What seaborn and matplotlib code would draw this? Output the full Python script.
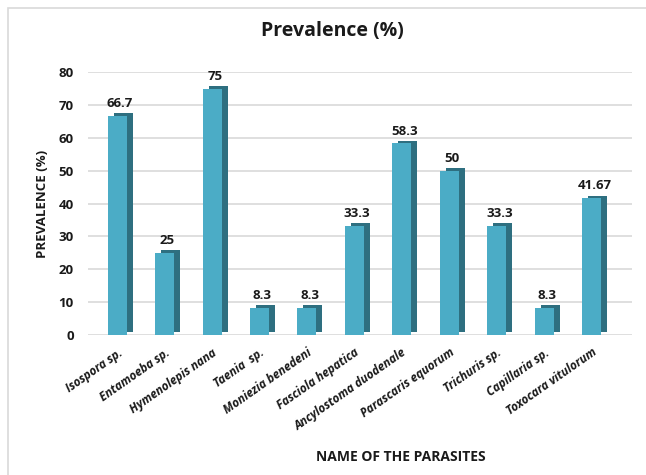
import matplotlib
matplotlib.use("Agg")
import matplotlib.pyplot as plt
import matplotlib.patheffects as pe
from matplotlib.patches import Rectangle
import seaborn as sns
import pandas as pd

parasites = ["Isospora sp.", "Entamoeba sp.", "Hymenolepis nana", "Taenia  sp.",
             "Moniezia benedeni", "Fasciola hepatica", "Ancylostoma duodenale",
             "Parascaris equorum", "Trichuris sp.", "Capillaria sp.", "Toxocara vitulorum"]
prevalence = [66.7, 25, 75, 8.3, 8.3, 33.3, 58.3, 50, 33.3, 8.3, 41.67]
value_labels = ["66.7", "25", "75", "8.3", "8.3", "33.3", "58.3", "50", "33.3", "8.3", "41.67"]
y_ticks = [0, 10, 20, 30, 40, 50, 60, 70, 80]

df = pd.DataFrame({"parasite": parasites, "prevalence": prevalence})

sns.set_theme(style="white")
plt.rcParams["font.family"] = ["Open Sans", "DejaVu Sans"]

fig = plt.figure(figsize=(6.46, 4.75), dpi=100)
ax = fig.add_axes([0.136, 0.295, 0.842, 0.553])

ax.set_axisbelow(True)
for t in y_ticks:
    ax.axhline(t, color="#d9d9d9", lw=1.2, zorder=0)

sns.barplot(data=df, x="parasite", y="prevalence", color="#4BACC6",
            saturation=1, width=0.4, linewidth=0, ax=ax, zorder=3)
for p in ax.patches:
    p.set_edgecolor("none")
    p.set_linewidth(0)
    p.set_path_effects([pe.SimplePatchShadow(offset=(4.3, 1.8), shadow_rgbFace="#2E6F80", alpha=1.0),
                        pe.Normal()])

for i, (v, lab) in enumerate(zip(prevalence, value_labels)):
    ax.annotate(lab, (i, v), xytext=(2, 4), textcoords="offset points",
                ha="center", va="bottom", fontsize=9.5, fontweight="bold", color="#1a1a1a")

ax.set_xlim(-0.62, 10.85)
ax.set_ylim(0, 80)
ax.set_yticks(y_ticks)
ax.set_yticklabels([str(t) for t in y_ticks], fontsize=9.5, fontweight="bold", color="#1a1a1a")
ax.set_xticks(range(len(parasites)))
ax.set_xticklabels(parasites, rotation=35, ha="right", rotation_mode="anchor",
                   fontsize=8.5, fontweight="bold", fontstyle="italic", color="#1a1a1a")
ax.tick_params(axis="y", pad=10, length=0)
ax.tick_params(axis="x", pad=8, length=0)
for s in ax.spines.values():
    s.set_visible(False)

ax.set_xlabel("NAME OF THE PARASITES", fontsize=10, fontweight="bold", color="#1a1a1a")
ax.xaxis.set_label_coords(0.575, -0.44)
ax.set_ylabel("PREVALENCE (%)", fontsize=9.5, fontweight="bold", color="#1a1a1a")
ax.yaxis.set_label_coords(-0.072, 0.5)

fig.text(0.515, 0.935, "Prevalence (%)", ha="center", va="center",
         fontsize=14, fontweight="bold", color="#1a1a1a")

fig.patches.append(Rectangle((8 / 646, -0.01), 1.0, 1 - 8 / 475 + 0.01,
                             transform=fig.transFigure, fill=False,
                             edgecolor="#d9d9d9", lw=1.2))

fig.savefig("out.png", dpi=100)
